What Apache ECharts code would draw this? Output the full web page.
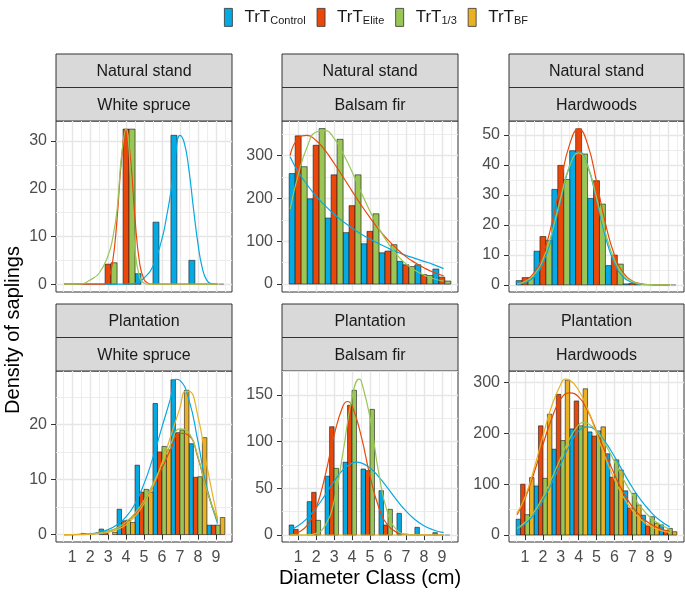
<!DOCTYPE html>
<html>
<head>
<meta charset="utf-8">
<script src="https://cdn.jsdelivr.net/npm/echarts@6/dist/echarts.min.js"></script>
<style>
  html, body { margin: 0; padding: 0; background: #fff; }
  #chart { width: 685px; height: 595px; }
</style>
</head>
<body>
<div id="chart"></div>
<script>
// diameter classes and treatments
const classes = [1, 2, 3, 4, 5, 6, 7, 8, 9]
const treatments = ['Control', 'Elite', '1/3', 'BF']
const xTicks = [1, 2, 3, 4, 5, 6, 7, 8, 9]
const xMinor = [0.5, 1.5, 2.5, 3.5, 4.5, 5.5, 6.5, 7.5, 8.5, 9.5]

// Natural stand - White spruce
const nsWsControl = [0, 0, 0, 0, 2.2, 13, 31.2, 5, 0]
const nsWsElite = [0, 0, 4.2, 32.5, 0, 0, 0, 0, 0]
const nsWs13 = [0, 0, 4.5, 32.5, 0, 0, 0, 0, 0]
const nsWsControlFit = [[0.55, 0], [3.5, 0], [4, 0.05], [4.5, 0.2], [5, 1.3], [5.5, 3.8], [6, 9.5], [6.25, 14], [6.5, 19.5], [6.75, 27], [7, 31.2], [7.25, 29.5], [7.5, 24], [7.75, 16], [8, 8.6], [8.25, 3.3], [8.5, 0.8], [8.75, 0.1], [9, 0], [9.1, 0]]
const nsWsEliteFit = [[0.55, 0], [2.75, 0], [3, 1], [3.25, 4.6], [3.5, 13.7], [3.75, 26.2], [4, 32.5], [4.25, 26.2], [4.5, 13.7], [4.75, 4.6], [5, 1], [5.25, 0.15], [5.5, 0], [9.1, 0]]
const nsWs13Fit = [[0.55, 0], [1.5, 0.05], [2, 0.9], [2.5, 2.3], [3, 6], [3.25, 9.5], [3.5, 15.6], [3.75, 27], [4, 32.5], [4.25, 22.6], [4.5, 7], [4.75, 1.6], [5, 0.2], [5.25, 0], [9.1, 0]]

// Natural stand - Balsam fir
const nsBfControl = [258, 199, 154, 120, 94, 73, 53, 45, 35]
const nsBfElite = [346, 324, 255, 183, 123, 77, 45, 22, 16]
const nsBf13 = [274, 363, 338, 255, 164, 92, 41, 20, 7]
const nsBfControlFit = [[0.55, 297], [1, 262], [1.5, 232], [2, 205], [2.5, 183], [3, 163], [3.5, 146], [4, 131], [4.5, 117], [5, 105], [5.5, 94], [6, 84], [6.5, 75], [7, 67], [7.5, 60], [8, 53], [8.5, 46], [9.1, 36]]
const nsBfEliteFit = [[0.55, 300], [1, 340], [1.5, 347], [2, 335], [2.5, 312], [3, 282], [3.5, 250], [4, 217], [4.5, 185], [5, 155], [5.5, 127], [6, 103], [6.5, 82], [7, 64], [7.5, 50], [8, 38], [8.5, 28], [9.1, 19]]
const nsBf13Fit = [[0.55, 175], [1, 255], [1.5, 320], [2, 355], [2.5, 358], [3, 340], [3.5, 305], [4, 262], [4.5, 215], [5, 170], [5.5, 130], [6, 96], [6.5, 68], [7, 47], [7.5, 32], [8, 21], [8.5, 13], [9.1, 7]]

// Natural stand - Hardwoods
const nsHwControl = [1.4, 11.2, 31.8, 44.7, 28.8, 6.4, 0.3, 0, 0]
const nsHwElite = [2.4, 16.1, 39.8, 52, 34.7, 9.9, 0.5, 0, 0]
const nsHw13 = [2.4, 14.8, 35.1, 43.6, 26.9, 6.9, 0.3, 0, 0]
const nsHwControlFit = [[0.55, 0.2], [1, 0.75], [1.5, 2.6], [2, 7.3], [2.5, 16], [3, 28.3], [3.5, 39.7], [4, 44.5], [4.5, 39.7], [5, 28.3], [5.5, 16], [6, 7.3], [6.5, 2.6], [7, 0.75], [7.5, 0.17], [8, 0.03], [8.5, 0], [9.1, 0]]
const nsHwEliteFit = [[0.55, 0.4], [1, 1.3], [1.5, 4], [2, 10], [2.5, 20.5], [3, 34.4], [3.5, 46.9], [4, 52], [4.5, 46.9], [5, 34.4], [5.5, 20.5], [6, 10], [6.5, 4], [7, 1.3], [7.5, 0.33], [8, 0.07], [8.5, 0], [9.1, 0]]
const nsHw13Fit = [[0.55, 0.3], [1, 1.1], [1.5, 3.4], [2, 8.4], [2.5, 17.4], [3, 29.1], [3.5, 39.7], [4, 44], [4.5, 39.7], [5, 29.1], [5.5, 17.4], [6, 8.4], [6.5, 3.4], [7, 1.1], [7.5, 0.28], [8, 0.06], [8.5, 0], [9.1, 0]]

// Plantation - White spruce
const plWsControl = [0, 0.2, 1, 4.6, 12.6, 23.8, 28.1, 16.5, 1.7]
const plWsElite = [0, 0, 0.3, 2.5, 7.7, 15, 18.5, 10.4, 1.7]
const plWs13 = [0, 0, 0, 2.6, 8.2, 16, 19, 10.5, 1.7]
const plWsBF = [0, 0, 0.4, 2.2, 7.7, 15.4, 26.2, 17.6, 3.1]
const plWsControlFit = [[0.55, 0], [1.5, 0.05], [2, 0.15], [2.5, 0.4], [3, 0.9], [3.5, 1.8], [4, 3.2], [4.5, 5.6], [5, 9.2], [5.5, 14], [6, 19.5], [6.5, 25], [6.75, 28.2], [7, 28], [7.5, 24.5], [8, 17], [8.5, 8.5], [9.1, 2]]
const plWsEliteFit = [[0.55, 0], [2, 0.1], [2.5, 0.3], [3, 0.6], [3.5, 1.2], [4, 2.2], [4.5, 3.7], [5, 5.9], [5.5, 8.7], [6, 12], [6.5, 15.6], [7, 18.4], [7.5, 18], [8, 14], [8.5, 8], [9.1, 2.5]]
const plWs13Fit = [[0.55, 0], [2, 0.1], [2.5, 0.3], [3, 0.6], [3.5, 1.2], [4, 2.3], [4.5, 3.9], [5, 6.2], [5.5, 9.2], [6, 12.8], [6.5, 16.5], [7, 19.2], [7.5, 18.5], [8, 14.2], [8.5, 8], [9.1, 2.5]]
const plWsBFFit = [[0.55, 0], [2, 0.05], [2.5, 0.15], [3, 0.4], [3.5, 0.9], [4, 1.8], [4.5, 3.3], [5, 5.6], [5.5, 8.8], [6, 13], [6.5, 18], [7, 23], [7.3, 26], [7.5, 26], [8, 21.5], [8.5, 12.5], [9.1, 2.8]]

// Plantation - Balsam fir
const plBfControl = [10.7, 35.7, 63, 78, 70.7, 47.5, 23.2, 8.2, 2.5]
const plBfElite = [6, 45.7, 116, 139, 69, 10.7, 0, 0, 0]
const plBf13 = [0, 15.7, 71.4, 155, 134.6, 27.5, 0, 0, 0]
const plBfBF = [0, 0, 0, 0, 0, 0, 0, 0, 0]
const plBfControlFit = [[0.55, 5.4], [1, 9.9], [1.5, 17.8], [2, 29], [2.5, 42.8], [3, 57.5], [3.5, 69.9], [4, 77], [4.25, 78], [4.5, 77.3], [5, 71.8], [5.5, 62.1], [6, 49.9], [6.5, 37.2], [7, 25.8], [7.5, 16.7], [8, 10], [8.5, 5.6], [9.1, 2.5]]
const plBfEliteFit = [[0.55, 0.7], [1, 2.8], [1.5, 10.3], [2, 29], [2.5, 63.3], [3, 106.7], [3.5, 138.4], [3.75, 143], [4, 138.4], [4.5, 106.7], [5, 63.3], [5.5, 29], [6, 10.3], [6.5, 2.8], [7, 0.6], [7.5, 0.1], [8, 0], [9.1, 0]]
const plBf13Fit = [[0.55, 0], [1, 0.02], [1.5, 0.23], [2, 1.8], [2.5, 10], [3, 36.1], [3.5, 88.7], [4, 147.4], [4.4, 167], [4.5, 165.7], [5, 126], [5.5, 64.9], [6, 22.6], [6.5, 5.3], [7, 0.85], [7.5, 0.1], [8, 0], [9.1, 0]]
const plBfBFFit = [[0.55, 0], [9.1, 0]]

// Plantation - Hardwoods
const plHwControl = [31, 96.5, 169, 209, 203, 160, 87, 39, 20]
const plHwElite = [100, 215, 277, 264, 195, 114, 53, 18, 9]
const plHw13 = [40, 111.6, 186, 215, 205, 148, 82, 36, 13]
const plHwBF = [113, 238, 305, 288, 213, 128, 59, 23, 6.5]
const plHwControlFit = [[0.55, 12], [1, 22], [1.5, 40], [2, 68], [2.5, 103], [3, 140], [3.5, 177], [4, 205], [4.5, 213], [5, 205], [5.5, 183], [6, 155], [6.5, 124], [7, 94], [7.5, 68], [8, 47], [8.5, 30], [9.1, 16]]
const plHwEliteFit = [[0.55, 40], [1, 72], [1.5, 122], [2, 178], [2.5, 230], [3, 268], [3.5, 280], [4, 272], [4.5, 245], [5, 205], [5.5, 162], [6, 120], [6.5, 84], [7, 56], [7.5, 36], [8, 22], [8.5, 13], [9.1, 7]]
const plHw13Fit = [[0.55, 13], [1, 25], [1.5, 45], [2, 75], [2.5, 112], [3, 152], [3.5, 190], [4, 217], [4.25, 222], [4.5, 220], [5, 205], [5.5, 178], [6, 145], [6.5, 110], [7, 80], [7.5, 54], [8, 35], [8.5, 22], [9.1, 11]]
const plHwBFFit = [[0.55, 43], [1, 75], [1.5, 130], [2, 195], [2.5, 255], [3, 297], [3.25, 307], [3.5, 305], [4, 285], [4.5, 248], [5, 200], [5.5, 152], [6, 110], [6.5, 75], [7, 49], [7.5, 30], [8, 18], [8.5, 10], [9.1, 5]]

// empty (grey) fit tail shown past the last class
const naFit = [[9.15, 0], [9.45, 0]]

const colors = ['#06A9E2', '#E9480A', '#99C656', '#E9B123']
const subs = { 'Control': 'Control', 'Elite': 'Elite', '1/3': '1/3', 'BF': 'BF' }

const panels = [
  { strip: ['Natural stand', 'White spruce'], bars: [nsWsControl, nsWsElite, nsWs13], fits: [nsWsControlFit, nsWsEliteFit, nsWs13Fit], na: true, yRange: [-1.63, 34.2], yTicks: [0, 10, 20, 30], yMinor: [5, 15, 25] },
  { strip: ['Natural stand', 'Balsam fir'], bars: [nsBfControl, nsBfElite, nsBf13], fits: [nsBfControlFit, nsBfEliteFit, nsBf13Fit], na: true, yRange: [-18.6, 380.7], yTicks: [0, 100, 200, 300], yMinor: [50, 150, 250, 350] },
  { strip: ['Natural stand', 'Hardwoods'], bars: [nsHwControl, nsHwElite, nsHw13], fits: [nsHwControlFit, nsHwEliteFit, nsHw13Fit], na: true, yRange: [-2.4, 54.6], yTicks: [0, 10, 20, 30, 40, 50], yMinor: [5, 15, 25, 35, 45] },
  { strip: ['Plantation', 'White spruce'], bars: [plWsControl, plWsElite, plWs13, plWsBF], fits: [plWsControlFit, plWsEliteFit, plWs13Fit, plWsBFFit], na: false, yRange: [-1.35, 29.7], yTicks: [0, 10, 20], yMinor: [5, 15, 25] },
  { strip: ['Plantation', 'Balsam fir'], bars: [plBfControl, plBfElite, plBf13, plBfBF], fits: [plBfControlFit, plBfEliteFit, plBf13Fit, plBfBFFit], na: true, yRange: [-7.5, 175.7], yTicks: [0, 50, 100, 150], yMinor: [25, 75, 125, 175] },
  { strip: ['Plantation', 'Hardwoods'], bars: [plHwControl, plHwElite, plHw13, plHwBF], fits: [plHwControlFit, plHwEliteFit, plHw13Fit, plHwBFFit], na: false, yRange: [-13.8, 323], yTicks: [0, 100, 200, 300], yMinor: [50, 150, 250] }
]

const colLeft = [56, 282, 509]
const colWidth = [176, 176, 175]
const rowTop = [121, 371]
const plotH = 171
const stripH = 33.5
const font = 'Liberation Sans, Arial, Helvetica, sans-serif'

const chart = echarts.init(document.getElementById('chart'))

const grid = []
const xAxis = []
const yAxis = []
const series = []
const graphic = []

panels.forEach((p, i) => {
  const col = i % 3
  const row = Math.floor(i / 3)
  const bottom = row === 1
  const left = colLeft[col]
  const top = rowTop[row]
  const width = colWidth[col]

  grid.push({ left, top, width, height: plotH, show: true, borderColor: '#333', borderWidth: 1, backgroundColor: '#fff' })

  xAxis.push({
    gridIndex: i, type: 'value', min: 0.1, max: 9.9,
    axisLine: { show: false },
    axisTick: { show: bottom, customValues: xTicks, length: 5, lineStyle: { color: '#333', width: 1 } },
    axisLabel: { show: bottom, customValues: xTicks, margin: 8, fontSize: 16, color: '#4d4d4d', fontFamily: font },
    splitLine: { show: true, lineStyle: { color: '#e6e6e6', width: 1.4 } }
  })
  xAxis.push({
    gridIndex: i, type: 'value', min: 0.1, max: 9.9, position: 'bottom',
    axisLine: { show: false },
    axisTick: { show: false, customValues: xMinor },
    axisLabel: { show: false, customValues: xMinor },
    splitLine: { show: true, lineStyle: { color: '#ebebeb', width: 0.9 } }
  })
  yAxis.push({
    gridIndex: i, type: 'value', min: p.yRange[0], max: p.yRange[1],
    axisLine: { show: false },
    axisTick: { show: true, customValues: p.yTicks, length: 5, lineStyle: { color: '#333', width: 1 } },
    axisLabel: { customValues: p.yTicks, margin: 9, fontSize: 16, color: '#4d4d4d', fontFamily: font },
    splitLine: { show: true, lineStyle: { color: '#e6e6e6', width: 1.4 } }
  })
  yAxis.push({
    gridIndex: i, type: 'value', min: p.yRange[0], max: p.yRange[1], position: 'left',
    axisLine: { show: false },
    axisTick: { show: false, customValues: p.yMinor },
    axisLabel: { show: false, customValues: p.yMinor },
    splitLine: { show: true, lineStyle: { color: '#ebebeb', width: 0.9 } }
  })

  const n = p.bars.length
  const w = 1 / n
  p.bars.forEach((vals, k) => {
    const off = -0.5 + w / 2 + k * w
    series.push({
      type: 'custom',
      name: treatments[k],
      xAxisIndex: 2 * i,
      yAxisIndex: 2 * i,
      z: 2,
      silent: true,
      data: classes.map((c, j) => [c, vals[j]]).filter(d => d[1] > 0),
      renderItem: (params, api) => {
        const x = api.value(0)
        const y = api.value(1)
        const a = api.coord([x + off - w / 2, y])
        const b = api.coord([x + off + w / 2, 0])
        return {
          type: 'rect',
          shape: { x: a[0], y: a[1], width: b[0] - a[0], height: b[1] - a[1] },
          style: { fill: colors[k], stroke: '#1a1a1a', lineWidth: 0.6 }
        }
      }
    })
  })

  p.fits.forEach((pts, k) => {
    series.push({
      type: 'line',
      name: treatments[k],
      xAxisIndex: 2 * i,
      yAxisIndex: 2 * i,
      z: 3,
      silent: true,
      showSymbol: false,
      smooth: 0.5,
      data: pts,
      lineStyle: { color: colors[k], width: 1.2 }
    })
  })

  if (p.na) {
    series.push({
      type: 'line', xAxisIndex: 2 * i, yAxisIndex: 2 * i, z: 3, silent: true,
      showSymbol: false, data: naFit, lineStyle: { color: '#8c8c8c', width: 1.2 }
    })
  }

  const s0 = row === 0 ? 54 : 304
  p.strip.forEach((label, s) => {
    const y = s0 + s * stripH
    graphic.push({
      type: 'rect', shape: { x: left, y, width, height: stripH },
      style: { fill: '#d9d9d9', stroke: '#333', lineWidth: 1 }
    })
    graphic.push({
      type: 'text', x: left + width / 2, y: y + stripH / 2 + 1,
      style: { text: label, font: '16px ' + font, fill: '#1a1a1a', align: 'center', verticalAlign: 'middle' }
    })
  })
})

graphic.push({
  type: 'text', x: 370, y: 578,
  style: { text: 'Diameter Class (cm)', font: '20px ' + font, fill: '#000', align: 'center', verticalAlign: 'middle' }
})
graphic.push({
  type: 'text', x: 13, y: 330, rotation: Math.PI / 2,
  style: { text: 'Density of saplings', font: '20px ' + font, fill: '#000', align: 'center', verticalAlign: 'middle' }
})

chart.setOption({
  animation: false,
  grid,
  xAxis,
  yAxis,
  series,
  graphic,
  legend: {
    top: 3,
    left: 219,
    itemWidth: 8,
    itemHeight: 18,
    itemGap: 11,
    icon: 'rect',
    selectedMode: false,
    data: treatments.map((t, k) => ({ name: t, itemStyle: { color: colors[k], borderColor: '#333', borderWidth: 0.8 } })),
    formatter: name => 'TrT{s|' + subs[name] + '}',
    textStyle: {
      fontSize: 17, color: '#1a1a1a', fontFamily: font, padding: [0, 0, 0, 7],
      rich: { s: { fontSize: 11, fontFamily: font, color: '#1a1a1a', padding: [8, 0, 0, 0] } }
    }
  }
})
</script>
</body>
</html>
